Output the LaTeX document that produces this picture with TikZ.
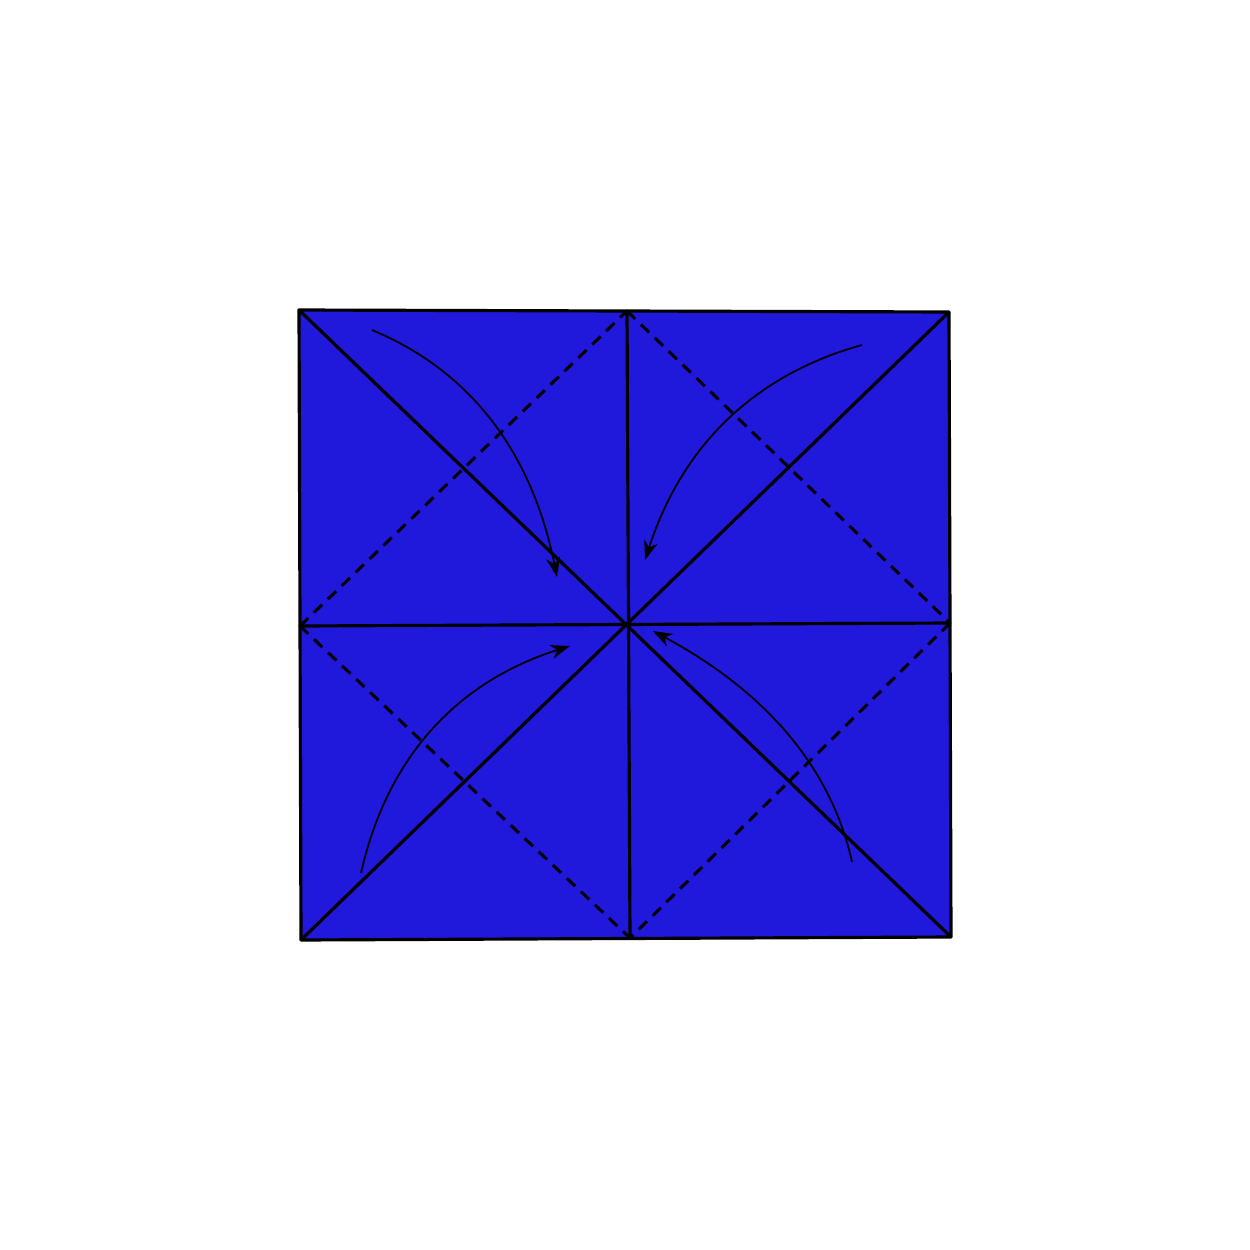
\documentclass[tikz,border=0pt]{standalone}
\usetikzlibrary{arrows.meta}
\definecolor{paper}{RGB}{32,24,219}
\begin{document}
\begin{tikzpicture}[x=0.02cm,y=-0.02cm,
  crease/.style={line width=1.8pt,line cap=round,line join=round},
  valley/.style={line width=1.7pt,dash pattern=on 6.5pt off 4.5pt},
  foldarrow/.style={line width=1pt,-{Stealth[length=11pt,width=8pt,inset=3.5pt]}}]
\useasboundingbox (0,0) rectangle (1250,1250);
\coordinate (tl) at (299,310);
\coordinate (tr) at (949,312);
\coordinate (br) at (951,937);
\coordinate (bl) at (301,940);
\coordinate (tm) at (627,311);
\coordinate (rm) at (950,623);
\coordinate (bm) at (630,938);
\coordinate (lm) at (300,626);
\coordinate (c) at (627,624);
\fill[paper] (tl) -- (tr) -- (br) -- (bl) -- cycle;
\draw[valley] (lm) -- (tm);
\draw[valley] (tm) -- (rm);
\draw[valley] (rm) -- (bm);
\draw[valley] (lm) -- (bm);
\draw[crease] (tl) -- (br);
\draw[crease] (tr) -- (bl);
\draw[crease] (tm) -- (bm);
\draw[crease] (lm) -- (rm);
\draw[crease] (tl) -- (tr) -- (br) -- (bl) -- cycle;
\coordinate (a1) at (372,330); \coordinate (b1) at (557,577);
\coordinate (a2) at (862,345); \coordinate (b2) at (645,560);
\coordinate (a3) at (361,873); \coordinate (b3) at (570,646);
\coordinate (a4) at (852,862); \coordinate (b4) at (653,631);
\draw[foldarrow] (a1) .. controls (471,371) and (532,453) .. (b1);
\draw[foldarrow] (a2) .. controls (754,375) and (682,446) .. (b2);
\draw[foldarrow] (a3) .. controls (387,758) and (456,682) .. (b3);
\draw[foldarrow] (a4) .. controls (831,767) and (765,691) .. (b4);
\end{tikzpicture}
\end{document}
